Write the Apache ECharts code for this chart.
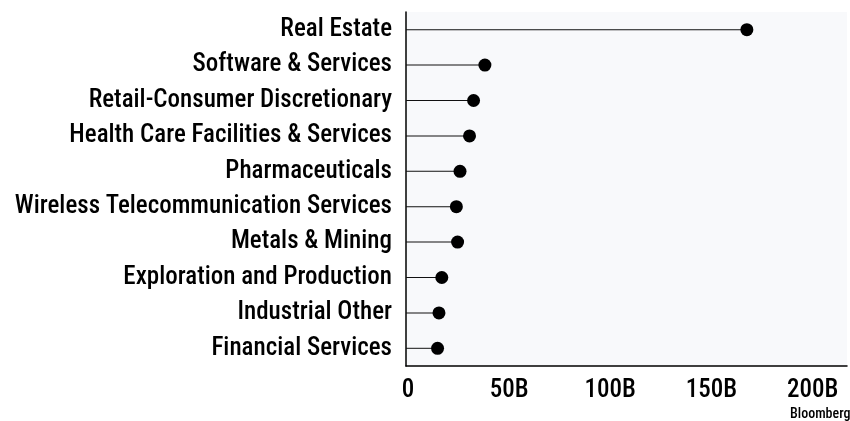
<!DOCTYPE html>
<html><head><meta charset="utf-8">
<script src="https://cdn.jsdelivr.net/npm/echarts@6/dist/echarts.min.js"></script>
<style>html,body{margin:0;padding:0;background:#fff}#c{width:850px;height:421px}</style>
</head><body><div id="c"></div>
<script>
const categories = ["Real Estate","Software & Services","Retail-Consumer Discretionary","Health Care Facilities & Services","Pharmaceuticals","Wireless Telecommunication Services","Metals & Mining","Exploration and Production","Industrial Other","Financial Services"];
const values = [168.5, 39, 33.4, 31.4, 26.7, 24.9, 25.5, 17.7, 16.3, 15.6];
const xTicks = [0, 50, 100, 150, 200];
const xMax = 218;
const FONT = '"Roboto Condensed", Roboto, sans-serif';
const chart = echarts.init(document.getElementById('c'), null, {renderer:'canvas'});
chart.setOption({
  animation:false,
  grid:{left:406, right:0, top:12, height:354, show:true, backgroundColor:'#f8f9fb', borderWidth:0, containLabel:false},
  xAxis:{type:'value', min:0, max:xMax, interval:50,
    axisLine:{show:true, lineStyle:{color:'#000', width:1.5}},
    axisTick:{show:false}, splitLine:{show:false},
    axisLabel:{margin:12, fontSize:25, fontFamily:FONT, color:'#000', fontWeight:500, padding:[0,0,0,4],
      formatter:v => xTicks.includes(v) ? (v===0 ? '0' : v+'B') : ''}
  },
  yAxis:{type:'category', inverse:true, data:categories,
    axisLine:{show:true, lineStyle:{color:'#000', width:1.5}},
    axisTick:{show:false},
    axisLabel:{margin:14, fontSize:25, fontFamily:FONT, fontWeight:500, color:'#000', padding:[0,0,3,0]}
  },
  series:[
    {type:'bar', data:values, barWidth:1, itemStyle:{color:'#111'}, silent:true},
    {type:'scatter', data:values, symbolSize:13, itemStyle:{color:'#000', opacity:1}, silent:true}
  ],
  graphic:[{type:'text', left:790, top:407, style:{text:'Bloomberg', font:'500 14px '+FONT, fill:'#000'}}]
});
</script></body></html>
